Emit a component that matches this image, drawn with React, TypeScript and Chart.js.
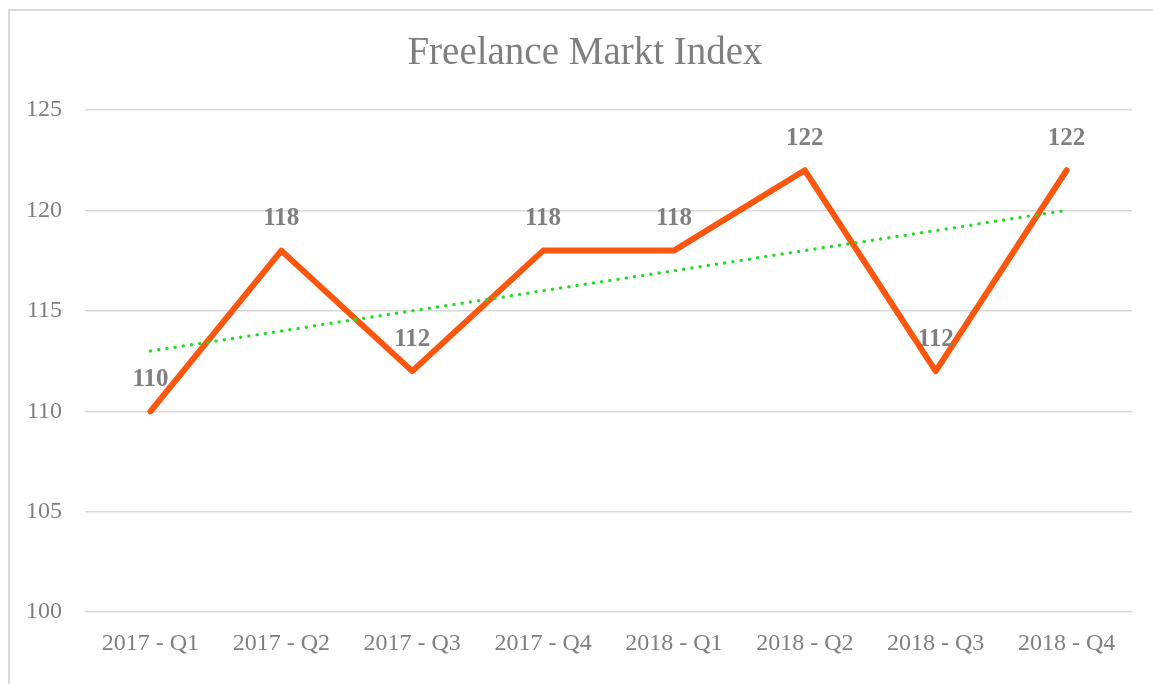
import { useEffect, useRef } from 'react';
import { Chart, registerables } from 'chart.js';

Chart.register(...registerables);

const categories = ['2017 - Q1', '2017 - Q2', '2017 - Q3', '2017 - Q4', '2018 - Q1', '2018 - Q2', '2018 - Q3', '2018 - Q4'];
const indexValues = [110, 118, 112, 118, 118, 122, 112, 122];
const trendValues = [113, 114, 115, 116, 117, 118, 119, 120];
const yMin = 100;
const yMax = 125;
const yStep = 5;
const titleText = 'Freelance Markt Index';

const FONT = '"Liberation Serif", "Times New Roman", serif';
const TEXT = '#7f7f7f';

const dataLabels = {
  id: 'dataLabels',
  afterDatasetsDraw(chart: any) {
    const ctx = chart.ctx;
    const idx = chart.data.datasets.findIndex((d: any) => d.label === 'Index');
    const meta = chart.getDatasetMeta(idx);
    ctx.save();
    ctx.font = `bold 25px ${FONT}`;
    ctx.fillStyle = TEXT;
    ctx.textAlign = 'center';
    ctx.textBaseline = 'middle';
    meta.data.forEach((pt: any, i: number) => {
      ctx.fillText(String(indexValues[i]), pt.x, pt.y - 32);
    });
    ctx.restore();
  },
};

const centeredTitle = {
  id: 'centeredTitle',
  afterDraw(chart: any) {
    const ctx = chart.ctx;
    ctx.save();
    ctx.font = `39px ${FONT}`;
    ctx.fillStyle = TEXT;
    ctx.textAlign = 'center';
    ctx.textBaseline = 'middle';
    ctx.fillText(titleText, chart.width / 2, 43);
    ctx.restore();
  },
};

export default function App() {
  const ref = useRef<HTMLCanvasElement | null>(null);
  useEffect(() => {
    if (!ref.current) return;
    const chart = new Chart(ref.current, {
      type: 'line',
      data: {
        labels: categories,
        datasets: [
          {
            label: 'Trend',
            data: trendValues,
            borderColor: '#22dd22',
            borderWidth: 3.5,
            borderDash: [0, 8.3],
            borderCapStyle: 'round',
            pointRadius: 0,
            tension: 0,
            order: 0,
          },
          {
            label: 'Index',
            data: indexValues,
            borderColor: '#ff560e',
            borderWidth: 6,
            borderCapStyle: 'round',
            borderJoinStyle: 'round',
            pointRadius: 0,
            tension: 0,
            order: 1,
          },
        ],
      },
      options: {
        animation: false,
        responsive: false,
        layout: { padding: { left: 0, right: 28, top: 99, bottom: 16 } },
        plugins: {
          legend: { display: false },
          tooltip: { enabled: false },
          title: { display: false },
        },
        scales: {
          x: {
            offset: true,
            grid: { display: false, drawTicks: false },
            border: { display: false },
            ticks: { color: TEXT, font: { family: FONT, size: 24 }, padding: 17, maxRotation: 0 },
          },
          y: {
            min: yMin,
            max: yMax,
            afterFit: (s: any) => { s.width = 75; },
            grid: { color: '#d9d9d9', lineWidth: 1.5, drawTicks: false },
            border: { display: false },
            ticks: { stepSize: yStep, color: TEXT, font: { family: FONT, size: 24 }, padding: 23 },
          },
        },
      },
      plugins: [dataLabels, centeredTitle],
    } as any);
    return () => chart.destroy();
  }, []);
  return (
    <div style={{ position: 'fixed', left: 0, top: 0, width: 1153, height: 684, overflow: 'hidden', background: '#fff' }}>
      <div style={{ position: 'absolute', left: 8, top: 9, width: 1200, height: 760, border: '2px solid #d9d9d9' }} />
      <canvas ref={ref} width={1150} height={680} style={{ position: 'absolute', left: 10, top: 11, display: 'block' }} />
    </div>
  );
}
